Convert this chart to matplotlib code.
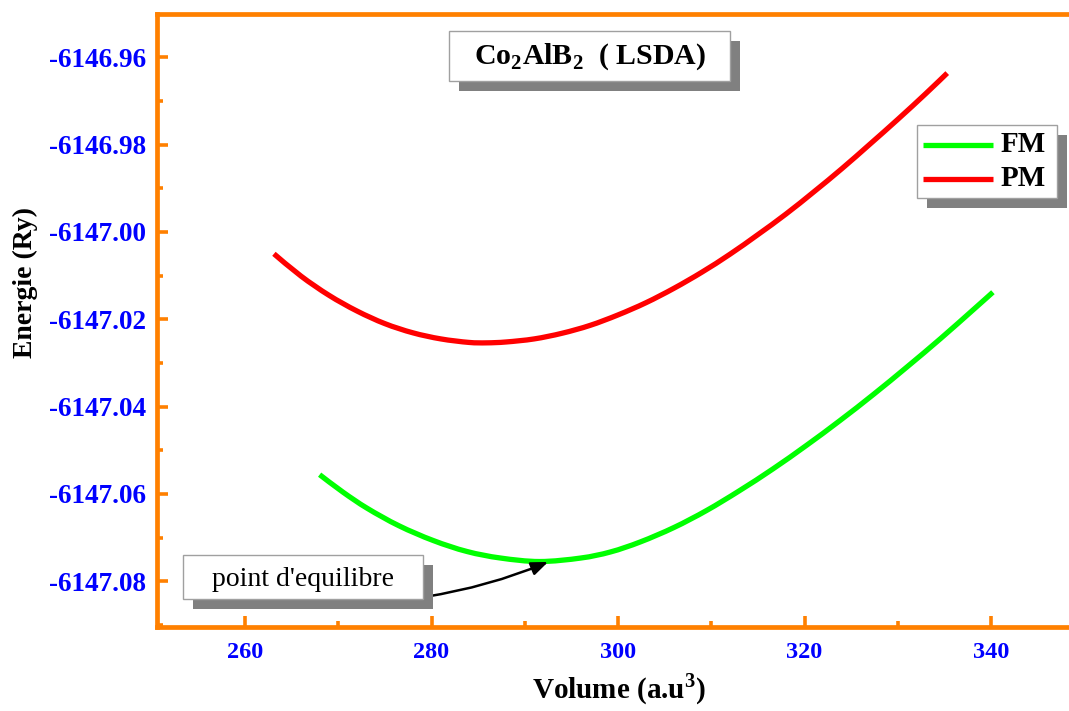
import matplotlib
matplotlib.use("Agg")
import matplotlib.pyplot as plt
import numpy as np
from matplotlib.patches import Rectangle, PathPatch
from matplotlib.path import Path
from matplotlib.ticker import MultipleLocator, FormatStrFormatter
from matplotlib.lines import Line2D

plt.rcParams['font.family'] = ['Liberation Serif', 'DejaVu Serif']
plt.rcParams['axes.unicode_minus'] = False
plt.rcParams['mathtext.fontset'] = 'custom'
plt.rcParams['mathtext.rm'] = 'Liberation Serif'
plt.rcParams['mathtext.bf'] = 'Liberation Serif:bold'

# ---- data ----
fm_volume = [268.0, 270.5, 273.1, 276.5, 280.2, 283.8, 287.4, 291.6, 296.0,
             299.2, 302.4, 306.0, 309.5, 313.0, 316.6, 320.2, 323.8, 327.4,
             331.0, 334.6, 338.1, 340.2]
fm_energy = [-6147.0556, -6147.0596, -6147.0633, -6147.0673, -6147.0707,
             -6147.0732, -6147.0747, -6147.0755, -6147.0747, -6147.0733,
             -6147.0710, -6147.0677, -6147.0638, -6147.0593, -6147.0543,
             -6147.0489, -6147.0432, -6147.0372, -6147.0309, -6147.0244,
             -6147.0178, -6147.0138]

pm_volume = [263.1, 266.0, 269.0, 272.0, 275.0, 278.0, 281.0, 284.0, 285.9,
             288.0, 291.0, 294.0, 297.0, 300.0, 303.0, 306.0, 309.0, 312.0,
             315.0, 318.0, 321.0, 324.0, 327.0, 330.0, 333.0, 335.3]
pm_energy = [-6147.0050, -6147.0101, -6147.0145, -6147.0181, -6147.0210,
             -6147.0231, -6147.0245, -6147.0253, -6147.0254, -6147.0252,
             -6147.0245, -6147.0232, -6147.0214, -6147.0190, -6147.0162,
             -6147.0129, -6147.0092, -6147.0051, -6147.0006, -6146.9959,
             -6146.9908, -6146.9855, -6146.9799, -6146.9742, -6146.9683,
             -6146.9636]

series_labels = ['FM', 'PM']
series_colors = ['#00FF00', '#FF0000']
title_text = r"Co$_\mathbf{2}$AlB$_\mathbf{2}$  ( LSDA)"
x_label = r"Volume (a.u$^\mathbf{3}$)"
y_label = "Energie (Ry)"
annot_text = "point d'equilibre"
eq_point = (292.5, -6147.0756)
annot_tail = (279.3, -6147.0836)

W, H = 1069, 711
fig = plt.figure(figsize=(W / 100, H / 100), dpi=100)
ax = fig.add_axes([157 / W, 1 - 627 / H, (W - 157) / W, (627 - 14) / H])

orange = '#FF8000'
blue = '#0000FF'


def smooth_curve(ax, xs, ys, color, lw):
    """Spline-style connection (like Origin's 'spline' line) through the points."""
    p = np.column_stack([xs, ys])
    verts = [p[0]]
    codes = [Path.MOVETO]
    n = len(p)
    for i in range(n - 1):
        p0 = p[i - 1] if i > 0 else p[i]
        p1, p2 = p[i], p[i + 1]
        p3 = p[i + 2] if i + 2 < n else p[i + 1]
        verts += [p1 + (p2 - p0) / 6.0, p2 - (p3 - p1) / 6.0, p2]
        codes += [Path.CURVE4] * 3
    patch = PathPatch(Path(verts, codes), fill=False, edgecolor=color, lw=lw,
                      capstyle='butt', joinstyle='round', transform=ax.transData,
                      zorder=3)
    ax.add_patch(patch)


smooth_curve(ax, fm_volume, fm_energy, series_colors[0], 3.8)
smooth_curve(ax, pm_volume, pm_energy, series_colors[1], 3.8)

ax.set_xlim(250.56, 348.36)
ax.set_ylim(-6147.0905, -6146.95006)

ax.xaxis.set_major_locator(MultipleLocator(20))
ax.xaxis.set_minor_locator(MultipleLocator(10))
ax.yaxis.set_major_locator(MultipleLocator(0.02))
ax.yaxis.set_minor_locator(MultipleLocator(0.01))
ax.yaxis.set_major_formatter(FormatStrFormatter('%.2f'))
ax.xaxis.set_major_formatter(FormatStrFormatter('%d'))

for side in ['left', 'bottom', 'top']:
    ax.spines[side].set_color(orange)
    ax.spines[side].set_linewidth(3.4)
ax.spines['right'].set_visible(False)

ax.tick_params(which='both', direction='in', color=orange, top=False, right=False)
ax.tick_params(which='major', length=8, width=2.6)
ax.tick_params(which='minor', length=4, width=2.6)
ax.tick_params(axis='y', which='major', labelcolor=blue, labelsize=19.5, pad=8)
ax.tick_params(axis='x', which='major', labelcolor=blue, labelsize=17.5, pad=11)
for lab in ax.get_xticklabels() + ax.get_yticklabels():
    lab.set_fontweight('bold')

fig.text(25 / W, 1 - 282 / H, y_label, rotation=90, ha='center', va='center',
         fontsize=20, fontweight='bold')
fig.text(619 / W, 1 - 689 / H, x_label, ha='center', va='center',
         fontsize=21, fontweight='bold')


def shadow_box(x0, y0, x1, y1, off=10):
    # pixel coords (top-left origin) -> figure fraction
    fig.patches.append(Rectangle(((x0 + off) / W, 1 - (y1 + off) / H),
                                 (x1 - x0) / W, (y1 - y0) / H,
                                 transform=fig.transFigure, facecolor='#808080',
                                 edgecolor='none', zorder=5))
    fig.patches.append(Rectangle((x0 / W, 1 - y1 / H), (x1 - x0) / W, (y1 - y0) / H,
                                 transform=fig.transFigure, facecolor='white',
                                 edgecolor='#A0A0A0', lw=1.0, zorder=6))


# title box
shadow_box(449, 31, 730, 81)
fig.text(590 / W, 1 - 57 / H, title_text, ha='center', va='center',
         fontsize=21.5, fontweight='bold', zorder=7)

# legend box
shadow_box(917, 125, 1057, 198)
for i, (lab, col) in enumerate(zip(series_labels, series_colors)):
    yy = 1 - (145 + 34 * i) / H
    fig.lines.append(Line2D([923 / W, 993 / W], [yy, yy], transform=fig.transFigure,
                            color=col, lw=3.8, solid_capstyle='butt', zorder=7))
    fig.text(1001 / W, yy, lab, ha='left', va='center', fontsize=21,
             fontweight='bold', zorder=7)

# annotation box
shadow_box(183, 555, 423, 599)
fig.text(303 / W, 1 - 579 / H, annot_text, ha='center', va='center',
         fontsize=20, zorder=7)
ax.annotate('', xy=eq_point, xytext=annot_tail,
            arrowprops=dict(arrowstyle='-|>,head_length=1.0,head_width=0.4',
                            color='black', lw=1.8,
                            connectionstyle='arc3,rad=0.06',
                            shrinkA=0, shrinkB=0),
            zorder=8, annotation_clip=False)

fig.savefig('out.png', dpi=100)
